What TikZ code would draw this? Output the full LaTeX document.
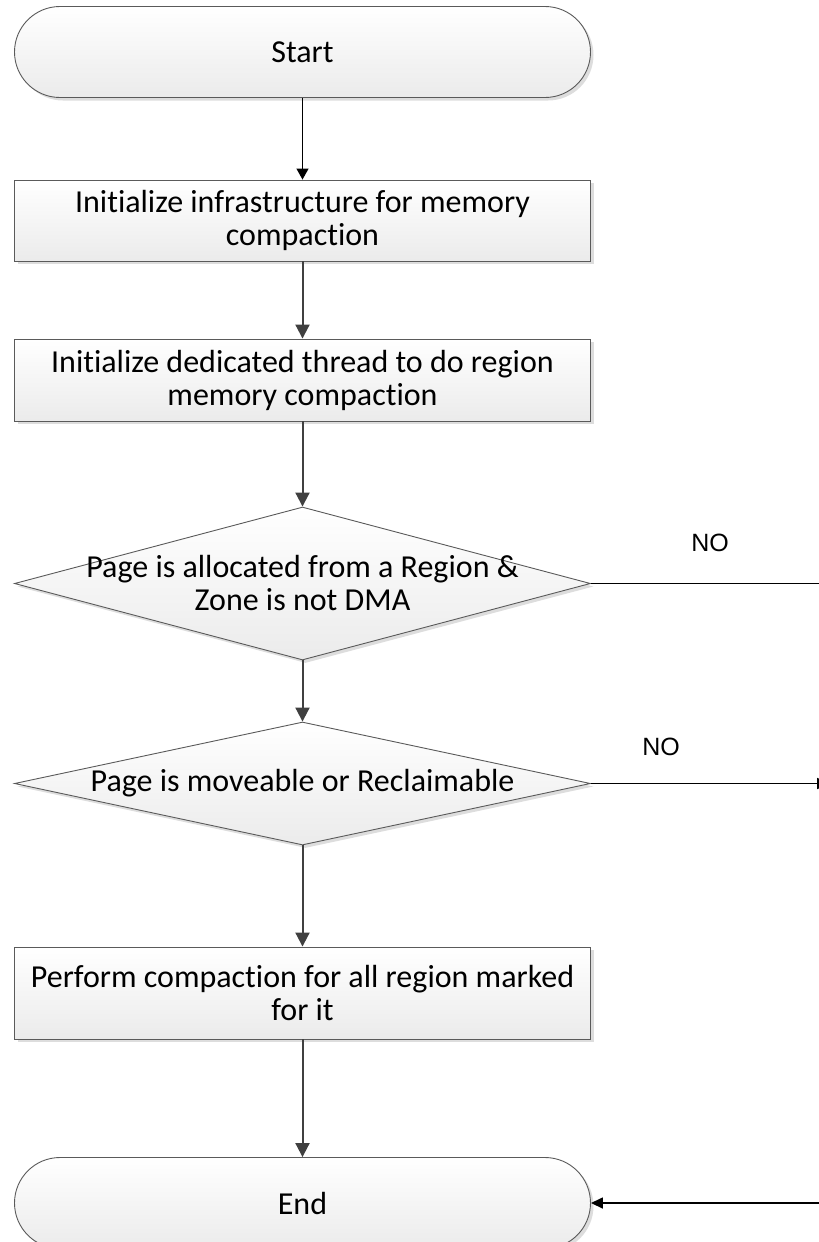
\documentclass[tikz,border=0pt]{standalone}
\usepackage{fontspec}
\setmainfont{Carlito}[RawFeature=-liga]
\newfontfamily\labelfont{Liberation Sans}
\usetikzlibrary{shapes.geometric,arrows.meta,shadows}
\definecolor{edgegray}{HTML}{5A5A5A}
\definecolor{flowgray}{HTML}{404040}
\definecolor{shadegray}{HTML}{EBEBEB}
\definecolor{shadowgray}{HTML}{D4D4D4}
\begin{document}
\begin{tikzpicture}[x=1pt,y=-1pt,
  base/.style={draw=edgegray, line width=0.9pt, top color=white, bottom color=shadegray,
    drop shadow={shadow xshift=3pt, shadow yshift=-3pt, fill=shadowgray, opacity=0.8},
    inner sep=0pt, align=center, font=\fontsize{32}{33}\selectfont},
  terminal/.style={base, rectangle, rounded corners=45.5pt, minimum width=576pt, minimum height=91pt},
  process/.style={base, rectangle, minimum width=576pt},
  decision/.style={base, diamond, minimum width=576pt},
  dtext/.style={align=center, font=\fontsize{32}{33}\selectfont, inner sep=0pt},
  flow/.style={draw=flowgray, line width=2pt, -{Triangle[width=14pt,length=14pt]}},
  thinflow/.style={draw=black, line width=1.2pt, -{Triangle[width=12pt,length=11pt]}},
  noline/.style={draw=black, line width=1.6pt},
  nolabel/.style={font=\labelfont\fontsize{25}{30}\selectfont, inner sep=0pt}]
\useasboundingbox (0,0) rectangle (819,1242);

\node[terminal] (start) at (302.5,52) {Start};
\node[process, minimum height=81pt] (init) at (302.5,220.5)
  {Initialize infrastructure for memory\\compaction};
\node[process, minimum height=82pt] (thread) at (302.5,380)
  {Initialize dedicated thread to do region\\memory compaction};
\node[decision, minimum height=153pt,
  label={[dtext]center:Page is allocated from a Region \&\\Zone is not DMA}] (region) at (302.5,583.5) {};
\node[decision, minimum height=123pt,
  label={[dtext]center:Page is moveable or Reclaimable}] (move) at (302.5,783.5) {};
\node[process, minimum height=92pt] (perform) at (302.5,993)
  {Perform compaction for all region marked\\for it};
\node[terminal] (end) at (302.5,1203) {End};

% the branch lines run on past the right edge of the page
\coordinate (out1) at (830,583.5);
\coordinate (out2) at (831,783.5);
\coordinate (in3) at (830,1203);

\draw[thinflow] (start) -- (init);
\draw[flow] (init) -- (thread);
\draw[flow] (thread) -- (region);
\draw[flow] (region) -- (move);
\draw[flow] (move) -- (perform);
\draw[flow] (perform) -- (end);

\draw[noline] (region.east) -- (out1);
\draw[noline, -{Triangle[width=11pt,length=14pt]}] (move.east) -- (out2);
\draw[noline, -{Triangle[width=11pt,length=12pt]}] (in3) -- (end.east);

\node[nolabel] (no1) at (710,543) {NO};
\node[nolabel] (no2) at (661,747) {NO};
\end{tikzpicture}
\end{document}
